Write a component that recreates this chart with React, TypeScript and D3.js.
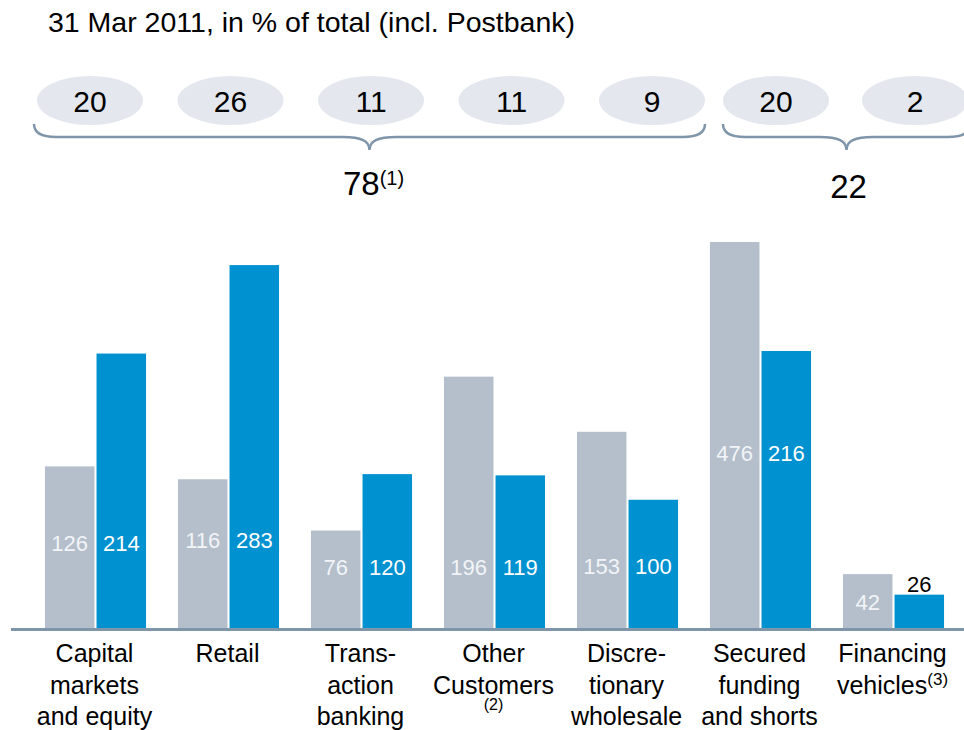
import React, { useEffect, useRef } from 'react'
import * as d3 from 'd3'

// funding mix, 31 Mar 2011
const categories = [
  'Capital markets and equity',
  'Retail',
  'Transaction banking',
  'Other Customers',
  'Discretionary wholesale',
  'Secured funding and shorts',
  'Financing vehicles',
]
const labelLines = [
  ['Capital', 'markets', 'and equity'],
  ['Retail'],
  ['Trans-', 'action', 'banking'],
  ['Other', 'Customers'],
  ['Discre-', 'tionary', 'wholesale'],
  ['Secured', 'funding', 'and shorts'],
  ['Financing', 'vehicles'],
]
const greyValues = [126, 116, 76, 196, 153, 476, 42]
const blueValues = [214, 283, 120, 119, 100, 216, 26]
const shares = [20, 26, 11, 11, 9, 20, 2]
const groupA = categories.slice(0, 5)
const groupB = categories.slice(5)
const groupTotals = ['78', '22']

// where the figures inside the bars sit, in value units
const labelLevels = [60, 62, 41, 41, 42, 130, 14]

const W = 964
const H = 730
const baseY = 628
const FONT = '"Liberation Sans", Arial, Helvetica, sans-serif'
const GREY = '#b4bfcb'
const BLUE = '#0091d0'
const BRACE = '#7f95aa'

function App() {
  const ref = useRef<SVGSVGElement>(null)

  useEffect(() => {
    const svg = d3.select(ref.current)
    svg.selectAll('*').remove()
    svg.style('font-family', FONT)

    const x = d3.scaleBand().domain(categories).range([29, 960]).paddingInner(0.24).paddingOuter(0.12)
    const xs = d3.scaleBand().domain(['grey', 'blue']).range([0, x.bandwidth()]).paddingInner(0.04)
    // tallest bar (476) is cut off at the top
    const y = d3.scaleLinear().domain([0, 301]).range([baseY, 242]).clamp(true)

    // title
    svg.append('text')
      .attr('x', 48)
      .attr('y', 32)
      .attr('font-size', 28.5)
      .attr('fill', '#000')
      .text('31 Mar 2011, in % of total (incl. Postbank)')

    // share ellipses
    const ea = d3.scalePoint().domain(groupA).range([90, 652])
    const eb = d3.scalePoint().domain(groupB).range([776, 915])
    const ex = (c: string) => (groupA.includes(c) ? ea(c) : eb(c)) as number
    const rx = 53, ry = 24.5, ecy = 100.5

    const ell = svg.append('g').selectAll('g')
      .data(categories)
      .join('g')
    ell.append('ellipse')
      .attr('cx', d => ex(d))
      .attr('cy', ecy)
      .attr('rx', rx)
      .attr('ry', ry)
      .attr('fill', '#e4e8ee')
    ell.append('text')
      .attr('x', d => ex(d))
      .attr('y', ecy + 11)
      .attr('text-anchor', 'middle')
      .attr('font-size', 30)
      .text((d, i) => shares[i])

    // braces
    const braces = [
      { x0: ex(groupA[0]) - rx - 3, x1: ex(groupA[groupA.length - 1]) + rx },
      { x0: ex(groupB[0]) - rx, x1: ex(groupB[groupB.length - 1]) + rx + 2 },
    ]
    const top = 124, line = 137, tip = 150
    const bracePath = (b: { x0: number; x1: number }) => {
      const m = (b.x0 + b.x1) / 2
      return `M${b.x0},${top} Q${b.x0},${line} ${b.x0 + 22},${line} L${m - 27},${line}`
        + ` C${m - 8},${line} ${m},${line + 4} ${m},${tip}`
        + ` C${m},${line + 4} ${m + 8},${line} ${m + 27},${line}`
        + ` L${b.x1 - 22},${line} Q${b.x1},${line} ${b.x1},${top}`
    }
    svg.append('g').selectAll('path')
      .data(braces)
      .join('path')
      .attr('d', bracePath)
      .attr('fill', 'none')
      .attr('stroke', BRACE)
      .attr('stroke-width', 2.5)

    const mA = (braces[0].x0 + braces[0].x1) / 2
    const mB = (braces[1].x0 + braces[1].x1) / 2
    const t78 = svg.append('text')
      .attr('x', mA + 4)
      .attr('y', 195)
      .attr('text-anchor', 'middle')
      .attr('font-size', 33)
    t78.append('tspan').text(groupTotals[0])
    t78.append('tspan').attr('font-size', 20).attr('dy', -10).text('(1)')
    svg.append('text')
      .attr('x', mB + 2)
      .attr('y', 198)
      .attr('text-anchor', 'middle')
      .attr('font-size', 33)
      .text(groupTotals[1])

    // bars
    const rows = categories.map((c, i) => ({ c, i, grey: greyValues[i], blue: blueValues[i], lvl: labelLevels[i] }))
    const grp = svg.append('g').selectAll('g')
      .data(rows)
      .join('g')
      .attr('transform', d => `translate(${x(d.c)},0)`)

    grp.append('rect')
      .attr('x', xs('grey') as number)
      .attr('width', xs.bandwidth())
      .attr('y', d => y(d.grey))
      .attr('height', d => baseY - y(d.grey))
      .attr('fill', GREY)
    grp.append('rect')
      .attr('x', xs('blue') as number)
      .attr('width', xs.bandwidth())
      .attr('y', d => y(d.blue))
      .attr('height', d => baseY - y(d.blue))
      .attr('fill', BLUE)

    grp.append('text')
      .attr('x', (xs('grey') as number) + xs.bandwidth() / 2)
      .attr('y', d => y(d.lvl))
      .attr('text-anchor', 'middle')
      .attr('font-size', 22)
      .attr('fill', '#f2f4f7')
      .text(d => d.grey)
    grp.append('text')
      .attr('x', (xs('blue') as number) + xs.bandwidth() / 2)
      .attr('y', d => (baseY - y(d.blue) < 40 ? y(d.blue) - 3 : y(d.lvl)))
      .attr('text-anchor', 'middle')
      .attr('font-size', 22)
      .attr('fill', d => (baseY - y(d.blue) < 40 ? '#000' : '#fff'))
      .text(d => d.blue)

    // baseline
    svg.append('line')
      .attr('x1', 11)
      .attr('x2', W)
      .attr('y1', baseY + 1.5)
      .attr('y2', baseY + 1.5)
      .attr('stroke', BRACE)
      .attr('stroke-width', 3)

    // category labels
    const cat = svg.append('g').selectAll('text')
      .data(rows)
      .join('text')
      .attr('text-anchor', 'middle')
      .attr('font-size', 25)
      .attr('fill', '#000')
    cat.each(function (d) {
      const t = d3.select(this)
      const cx = (x(d.c) as number) + x.bandwidth() / 2 - 1
      labelLines[d.i].forEach((ln, j) => {
        t.append('tspan')
          .attr('x', cx)
          .attr('y', 662 + j * 31.5)
          .text(ln)
        if (d.c === 'Financing vehicles' && j === 1) {
          t.append('tspan').attr('font-size', 17).attr('dy', -9).text('(3)')
        }
      })
      if (d.c === 'Other Customers') {
        t.append('tspan')
          .attr('x', cx)
          .attr('y', 710)
          .attr('font-size', 16)
          .text('(2)')
      }
    })
  }, [])

  return (
    <svg ref={ref} width={W} height={H} style={{ position: 'absolute', left: 0, top: 0, background: '#fff' }} />
  )
}

export default App
